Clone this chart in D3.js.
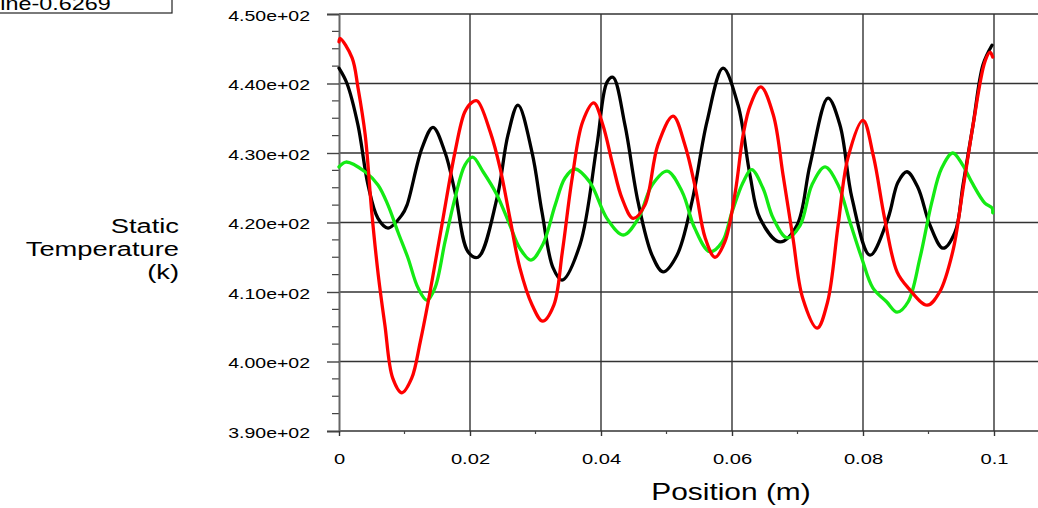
<!DOCTYPE html>
<html><head><meta charset="utf-8">
<script src="https://cdn.jsdelivr.net/npm/d3@7"></script>
<style>
html,body{margin:0;padding:0;background:#fff;}
svg{display:block;font-family:Arial,"Liberation Sans",sans-serif;}
</style></head>
<body>
<svg id="c" width="1038" height="508"></svg>
<script>
// ---- data (position in m, static temperature in K) ----
const blackX = [0,0.00122,0.0029,0.00443,0.00595,0.00748,0.00962,0.01038,0.01267,0.01435,0.01618,0.01771,0.01969,0.02122,0.02412,0.0258,0.02733,0.02947,0.03099,0.03267,0.03405,0.03679,0.03939,0.04092,0.04183,0.04366,0.04565,0.04779,0.04947,0.0516,0.05389,0.05618,0.05863,0.06092,0.06275,0.06427,0.06733,0.06992,0.07191,0.07466,0.07649,0.07832,0.08107,0.08382,0.08534,0.08672,0.0884,0.09023,0.09221,0.09405,0.09527,0.09679,0.09832,0.09969];
const blackT = [442.2,440.0,434.0,425.4,420.6,419.2,421.1,422.5,430.7,433.7,430.1,424.4,415.8,415.0,423.5,432.6,436.9,430.1,421.5,413.5,411.7,416.8,431.2,440.2,440.9,434.0,423.0,415.3,412.9,415.3,423.0,434.5,442.2,436.9,426.8,420.6,417.2,419.6,428.3,437.9,434.0,423.5,415.3,420.6,425.8,427.3,425.0,419.6,416.3,418.6,425.4,434.0,442.7,445.5];

const redX = [0,0.00015,0.0020,0.0029,0.0040,0.0050,0.0060,0.0070,0.0082,0.0096,0.0111,0.0124,0.0139,0.0157,0.0177,0.0192,0.0203,0.0211,0.0231,0.0246,0.0261,0.0276,0.0295,0.0311,0.0328,0.0341,0.0356,0.0372,0.0389,0.0403,0.0418,0.0432,0.0449,0.0467,0.0487,0.0510,0.0528,0.0544,0.0559,0.0574,0.0589,0.0605,0.0617,0.0628,0.0644,0.0663,0.0678,0.0693,0.0708,0.0730,0.0746,0.0762,0.0777,0.0800,0.0816,0.0833,0.0852,0.0869,0.0898,0.0917,0.0937,0.0952,0.0968,0.0986,0.0994,0.0998];
const redT = [446.0,446.5,443.7,439.4,432.6,421.5,412.4,405.3,397.6,395.5,397.6,402.8,410.0,419.6,430.1,435.9,437.3,437.5,433.0,427.8,420.6,413.5,408.1,405.8,408.1,415.8,426.4,434.5,437.2,434.0,428.3,423.5,420.6,422.5,431.2,435.3,431.2,425.0,417.8,415.0,417.2,424.4,432.6,436.9,439.5,435.5,426.8,417.8,409.1,404.8,408.6,419.6,429.3,434.7,429.5,420.6,412.9,410.6,408.1,410.0,415.8,424.4,434.0,443.1,444.5,443.8];

const greenX = [0,0.00107,0.00397,0.00595,0.00748,0.00901,0.01053,0.01206,0.01344,0.01466,0.01618,0.01771,0.01924,0.0204,0.0220,0.0241,0.0261,0.0276,0.0293,0.0311,0.0330,0.0345,0.0360,0.0383,0.0409,0.0434,0.0457,0.0478,0.0501,0.0524,0.0543,0.0566,0.0585,0.0600,0.0617,0.0630,0.0647,0.0663,0.0684,0.0704,0.0722,0.0742,0.0762,0.0780,0.0798,0.0815,0.0836,0.0852,0.0869,0.0887,0.0905,0.0920,0.0937,0.0952,0.0966,0.0986,0.0997,0.0998];
const greenT = [428.0,428.7,427.3,425.4,422.5,418.6,414.9,410.6,408.8,410.6,417.2,423.5,428.3,429.4,427.3,424.0,419.6,416.3,414.6,416.8,422.5,426.4,427.7,425.8,420.6,418.2,420.6,425.4,427.4,424.4,419.2,415.8,417.2,421.5,425.8,427.6,425.0,420.6,417.8,419.6,425.4,428.0,425.4,420.1,414.9,410.6,408.6,407.1,408.6,414.9,422.9,427.8,430.0,428.3,425.8,422.8,422.1,421.4];

const xTicks = [0,0.02,0.04,0.06,0.08,0.1];
const xTickLabels = ["0","0.02","0.04","0.06","0.08","0.1"];
const yTicks = [390,400,410,420,430,440,450];
const yTickLabels = ["3.90e+02","4.00e+02","4.10e+02","4.20e+02","4.30e+02","4.40e+02","4.50e+02"];
const xMinor = [0.01,0.03,0.05,0.07,0.09];
const yMinor = [392.5,395,397.5,402.5,405,407.5,412.5,415,417.5,422.5,425,427.5,432.5,435,437.5,442.5,445,447.5];
const yTitleLines = ["Static","Temperature","(k)"];
const xTitle = "Position (m)";
const legendText = "line-0.6269";

// ---- layout ----
const svg = d3.select("#c");
const L = 339, R = 994, T = 14, B = 431, EDGE = 1040;
const x = d3.scaleLinear().domain([0, 0.1]).range([L, R]);
const y = d3.scaleLinear().domain([390, 450]).range([B, T]);
const SX = 1.3;

// legend box fragment
svg.append("rect").attr("x", -2).attr("y", -20).attr("width", 174).attr("height", 33)
  .attr("fill", "#fff").attr("stroke", "#222").attr("stroke-width", 1.2);
svg.append("text").attr("transform", "translate(-5,10) scale(" + SX + ",1)")
  .attr("font-size", 18).attr("fill", "#000").text(legendText);

// grid
const grid = svg.append("g");
grid.selectAll("line.h").data(yTicks).join("line")
  .attr("x1", L).attr("x2", EDGE).attr("y1", d => y(d)).attr("y2", d => y(d))
  .attr("stroke", d => d === 390 ? "#666" : "#333").attr("stroke-width", d => d === 390 ? 2 : 1.4);
grid.selectAll("line.v").data(xTicks.slice(1)).join("line")
  .attr("y1", T).attr("y2", B).attr("x1", d => x(d)).attr("x2", d => x(d))
  .attr("stroke", "#333").attr("stroke-width", 1.4);

// minor ticks
svg.append("g").selectAll("line").data(yMinor).join("line")
  .attr("x1", L - 7).attr("x2", L).attr("y1", d => y(d)).attr("y2", d => y(d))
  .attr("stroke", "#444").attr("stroke-width", 1.2);
svg.append("g").selectAll("line").data(xMinor).join("line")
  .attr("y1", B).attr("y2", B + 3).attr("x1", d => x(d)).attr("x2", d => x(d))
  .attr("stroke", "#444").attr("stroke-width", 1.2);

// axes
const yAxis = d3.axisLeft(y).tickValues(yTicks).tickFormat((d, i) => yTickLabels[i]).tickSize(12).tickPadding(0);
const gy = svg.append("g").attr("transform", `translate(${L},0)`).call(yAxis);
gy.select(".domain").attr("stroke", "#666").attr("stroke-width", 2);
gy.selectAll(".tick line").attr("stroke", "#444").attr("stroke-width", 1.4);
gy.selectAll(".tick text").attr("x", null).attr("dy", "0.36em")
  .attr("transform", `translate(-29,1) scale(${SX},1)`)
  .attr("font-size", 15).attr("fill", "#000").attr("font-family", "Arial, 'Liberation Sans', sans-serif");

const xAxis = d3.axisBottom(x).tickValues(xTicks).tickFormat((d, i) => xTickLabels[i]).tickSize(5).tickPadding(0);
const gx = svg.append("g").attr("transform", `translate(0,${B})`).call(xAxis);
gx.select(".domain").remove();
gx.selectAll(".tick line").attr("stroke", "#333").attr("stroke-width", 1.4);
gx.selectAll(".tick text").attr("y", null).attr("dy", null)
  .attr("transform", `translate(0,33) scale(${SX},1)`)
  .attr("font-size", 15.5).attr("fill", "#000").attr("font-family", "Arial, 'Liberation Sans', sans-serif");

// titles
svg.append("g").selectAll("text").data(yTitleLines).join("text")
  .attr("transform", (d, i) => `translate(179,${233 + i * 23}) scale(${SX},1)`)
  .attr("text-anchor", "end").attr("font-size", 21).attr("fill", "#000").text(d => d);
svg.append("text").attr("transform", `translate(731,500) scale(${SX},1)`)
  .attr("text-anchor", "middle").attr("font-size", 23).attr("fill", "#000").text(xTitle);

// series
const line = d3.line().x(d => x(d[0])).y(d => y(d[1])).curve(d3.curveCatmullRom.alpha(0.5));
const series = [
  {xs: blackX, ts: blackT, color: "#000000"},
  {xs: greenX, ts: greenT, color: "#14ea14"},
  {xs: redX, ts: redT, color: "#ff0000"}
];
svg.append("g").selectAll("path").data(series).join("path")
  .attr("d", s => line(s.xs.map((v, i) => [v, s.ts[i]])))
  .attr("fill", "none").attr("stroke", s => s.color).attr("stroke-width", 3.3)
  .attr("stroke-linejoin", "round").attr("stroke-linecap", "round");
</script>
</body></html>
